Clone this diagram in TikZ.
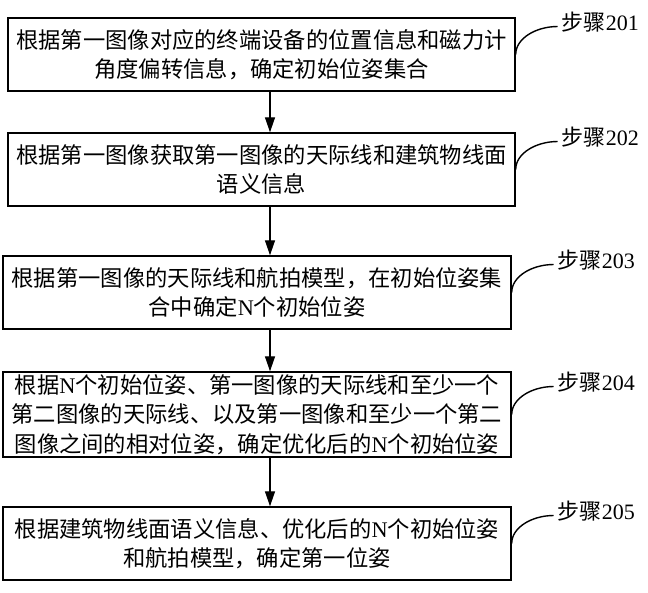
\documentclass[tikz,border=0pt]{standalone}
\usepackage{fontspec}
\setmainfont{Liberation Serif}
\newfontfamily\cjk{Noto Sans CJK SC}
\newfontfamily\lat{Liberation Serif}
\usetikzlibrary{arrows.meta,calc}
\begin{document}
\begin{tikzpicture}[x=1pt,y=-1pt,
  box/.style={draw,line width=1.4pt,inner sep=0pt,align=center,
    font=\cjk\fontsize{22.3}{29.5}\selectfont},
  lab/.style={anchor=west,inner sep=0pt,font=\cjk\fontsize{22}{26}\selectfont},
  flow/.style={line width=1.3pt,-{Triangle[width=10pt,length=15pt]}},
  hook/.style={line width=1.4pt}]
\useasboundingbox (0,0) rectangle (648,592);
\coordinate (ax) at (270,0);
\node[box,minimum width=507pt,minimum height=73pt] (b1) at (261.5,54.5)
  {根据第一图像对应的终端设备的位置信息和磁力计\\角度偏转信息，确定初始位姿集合};
\node[box,minimum width=507pt,minimum height=73pt] (b2) at (261.5,169.5)
  {根据第一图像获取第一图像的天际线和建筑物线面\\语义信息};
\node[box,minimum width=508pt,minimum height=73pt] (b3) at (257,292.5)
  {根据第一图像的天际线和航拍模型，在初始位姿集\\合中确定{\lat N}个初始位姿};
\node[box,minimum width=508pt,minimum height=85pt] (b4) at (257,414.5)
  {根据{\lat N}个初始位姿、第一图像的天际线和至少一个\\第二图像的天际线、以及第一图像和至少一个第二\\图像之间的相对位姿，确定优化后的{\lat N}个初始位姿};
\node[box,minimum width=508pt,minimum height=73pt] (b5) at (257,543.5)
  {根据建筑物线面语义信息、优化后的{\lat N}个初始位姿\\和航拍模型，确定第一位姿};
\foreach \a/\b in {b1/b2,b2/b3,b3/b4,b4/b5}
  \draw[flow] (\a.south -| ax) -- (\b.north -| ax);
\foreach \b/\n in {b1/201,b2/202,b3/203,b4/204,b5/205}{
  \coordinate (c\n) at ([xshift=42pt,yshift=28pt]\b.east);
  \node[lab] (s\n) at ([xshift=4pt,yshift=4pt]c\n) {步骤{\lat\n}};
  \draw[hook] (\b.east) .. controls ([yshift=16pt]\b.east) and ([xshift=-22pt]c\n) .. (c\n);
}
\end{tikzpicture}
\end{document}
